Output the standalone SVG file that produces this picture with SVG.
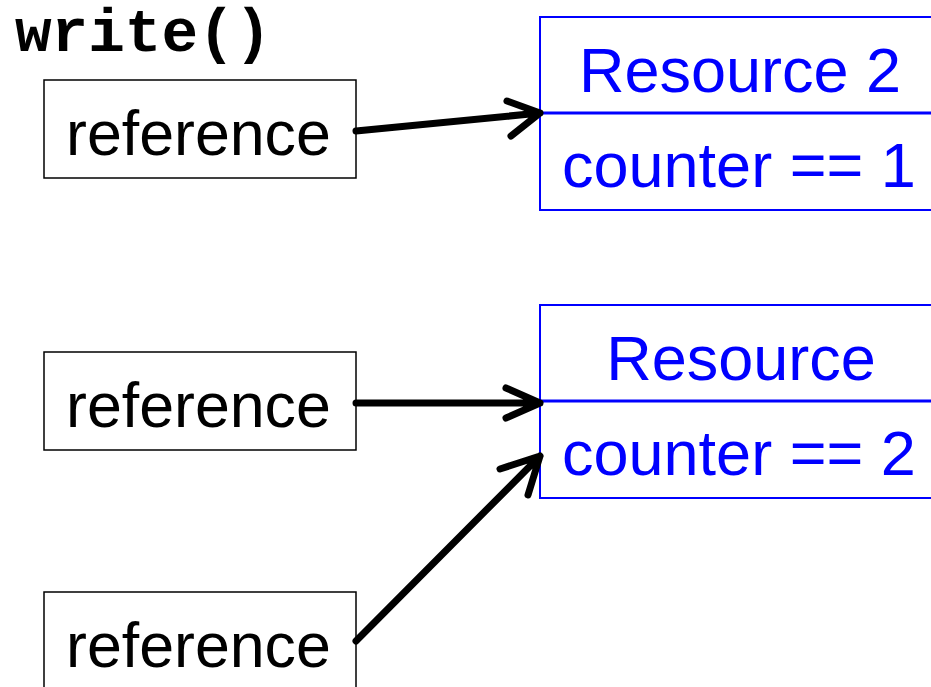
<svg xmlns="http://www.w3.org/2000/svg" width="931" height="687" viewBox="0 0 931 687">
  <style>
    .ref rect { fill: #fff; stroke: #000; stroke-width: 1.5; }
    .ref text { font-family: "Liberation Sans", Arial, sans-serif; font-size: 62.7px; fill: #000; }
    .res rect { fill: #fff; stroke: #0000ff; stroke-width: 2; }
    .res line { stroke: #0000ff; stroke-width: 3; }
    .res text { font-family: "Liberation Sans", Arial, sans-serif; font-size: 63px; fill: #0000ff; }
    .title { font-family: "Liberation Mono", "Courier New", monospace; font-weight: bold; font-size: 61px; fill: #000; }
    #connectors path { fill: none; stroke: #000; stroke-width: 7; stroke-linecap: round; stroke-linejoin: round; }
  </style>

  <text class="title" x="15" y="51">write()</text>

  <g id="ref1" class="ref">
    <rect x="44" y="80" width="312" height="98"/>
    <text x="66" y="155">reference</text>
  </g>
  <g id="ref2" class="ref">
    <rect x="44" y="352" width="312" height="98"/>
    <text x="66" y="427">reference</text>
  </g>
  <g id="ref3" class="ref">
    <rect x="44" y="592" width="312" height="110"/>
    <text x="66" y="667">reference</text>
  </g>

  <g id="resource2" class="res">
    <rect x="540" y="17" width="400" height="193"/>
    <line x1="540" y1="113" x2="940" y2="113"/>
    <text x="740" y="92" text-anchor="middle">Resource 2</text>
    <text x="562" y="187">counter == 1</text>
  </g>
  <g id="resource" class="res">
    <rect x="540" y="305" width="400" height="193"/>
    <line x1="540" y1="401" x2="940" y2="401"/>
    <text x="741" y="380" text-anchor="middle">Resource</text>
    <text x="562" y="475">counter == 2</text>
  </g>

  <g id="connectors">
    <path d="M356,131 L540,113 M507,101 L540,113 L511,136"/>
    <path d="M356,403 L540,403 M506,388 L540,403 L506,418"/>
    <path d="M356,641 L540,456 M500,469 L540,456 L528,495"/>
  </g>
</svg>
